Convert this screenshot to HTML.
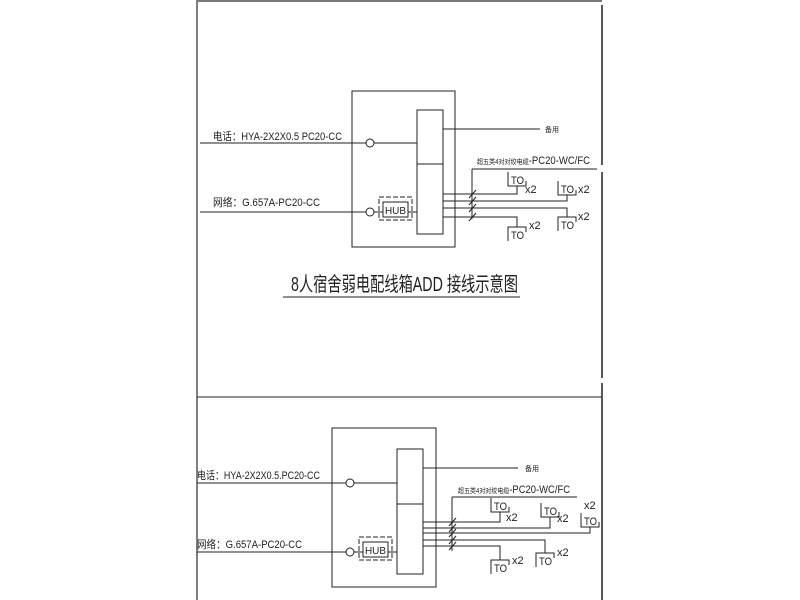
<!DOCTYPE html>
<html><head><meta charset="utf-8"><style>
html,body{margin:0;padding:0;background:#fff;}
svg{display:block}
text{font-family:"Liberation Sans","Noto Sans CJK SC",sans-serif;fill:#222}
</style></head><body>
<svg width="800" height="600" viewBox="0 0 800 600" xmlns="http://www.w3.org/2000/svg">
<g stroke="#222" stroke-width="1" fill="none">
<line x1="197" y1="0" x2="197" y2="600" stroke="#555" stroke-width="1.5"/>
<line x1="197" y1="1" x2="602" y2="1" stroke="#777" stroke-width="2"/>
<line x1="602" y1="5" x2="602" y2="165" stroke-width="1.5"/>
<line x1="602" y1="172" x2="602" y2="378" stroke-width="1.5"/>
<line x1="602" y1="383" x2="602" y2="600" stroke-width="1.5"/>
<line x1="197" y1="397" x2="602" y2="397"/>

<rect x="352" y="91" width="103" height="156"/>
<rect x="417" y="110" width="26" height="124"/>
<line x1="417" y1="164" x2="443" y2="164"/>
<line x1="200" y1="143" x2="366" y2="143"/>
<circle cx="370" cy="143" r="4"/>
<line x1="374" y1="143" x2="417" y2="143"/>
<line x1="200" y1="212" x2="366" y2="212"/>
<circle cx="370" cy="212" r="4"/>
<line x1="374" y1="212" x2="383" y2="212"/>
<rect x="379" y="197" width="33" height="23" stroke-dasharray="5,2"/>
<rect x="383" y="202" width="25" height="15"/>
<line x1="408" y1="212" x2="417" y2="212"/>
<line x1="443" y1="129" x2="540" y2="129"/>
<line x1="472" y1="169" x2="597" y2="169"/>
<line x1="472" y1="169" x2="472" y2="219"/>
<polyline points="443,194 517,194 517,186"/>
<polyline points="443,201 567,201 567,195"/>
<polyline points="443,208 567,208 567,217"/>
<polyline points="443,217 517,217 517,227"/>
<line x1="469" y1="198" x2="476" y2="190"/><line x1="469" y1="205" x2="476" y2="197"/>
<line x1="469" y1="212" x2="476" y2="204"/><line x1="469" y1="221" x2="476" y2="213"/>
<path d="M508 172 V186 H526 V181"/>
<path d="M558 181 V195 H576 V190"/>
<path d="M558 231 V217 H576 V222"/>
<path d="M508 241 V227 H526 V232"/>
<line x1="283" y1="297" x2="520" y2="297"/>

<rect x="332" y="428" width="104" height="159"/>
<rect x="397" y="449" width="26" height="125"/>
<line x1="397" y1="504" x2="423" y2="504"/>
<line x1="197" y1="483" x2="346" y2="483"/>
<circle cx="350" cy="483" r="4"/>
<line x1="354" y1="483" x2="397" y2="483"/>
<line x1="197" y1="552" x2="346" y2="552"/>
<circle cx="350" cy="552" r="4"/>
<line x1="354" y1="552" x2="363" y2="552"/>
<rect x="359" y="537" width="33" height="23" stroke-dasharray="5,2"/>
<rect x="363" y="542" width="25" height="15"/>
<line x1="388" y1="552" x2="397" y2="552"/>
<line x1="423" y1="468" x2="518" y2="468"/>
<line x1="452" y1="497" x2="577" y2="497"/>
<line x1="452" y1="497" x2="452" y2="551"/>
<polyline points="423,522 500,522 500,512"/>
<polyline points="423,528 550,528 550,517"/>
<polyline points="423,533 590,533 590,527"/>
<polyline points="423,540 545,540 545,553"/>
<polyline points="423,546 500,546 500,560"/>
<line x1="449" y1="526" x2="456" y2="518"/><line x1="449" y1="532" x2="456" y2="524"/>
<line x1="449" y1="537" x2="456" y2="529"/><line x1="449" y1="544" x2="456" y2="536"/>
<line x1="449" y1="550" x2="456" y2="542"/>
<path d="M491 498 V512 H509 V507"/>
<path d="M541 503 V517 H559 V512"/>
<path d="M581 513 V527 H599 V522"/>
<path d="M536 567 V553 H554 V558"/>
<path d="M491 574 V560 H509 V565"/>
</g>

<g font-size="11">
<text x="213" y="140" textLength="129" lengthAdjust="spacingAndGlyphs">电话：HYA-2X2X0.5 PC20-CC</text>
<text x="213" y="206" textLength="107" lengthAdjust="spacingAndGlyphs">网络：G.657A-PC20-CC</text>
<text x="385" y="214" font-size="10" textLength="21" lengthAdjust="spacingAndGlyphs">HUB</text>
<text x="545" y="132" font-size="7">备用</text>
<text x="477" y="164" textLength="113" lengthAdjust="spacingAndGlyphs"><tspan font-size="7">超五类4对对绞电缆</tspan>-PC20-WC/FC</text>
<text x="511" y="184" textLength="13" lengthAdjust="spacingAndGlyphs">TO</text><text x="525" y="193">x2</text>
<text x="561" y="193" textLength="13" lengthAdjust="spacingAndGlyphs">TO</text><text x="578" y="193">x2</text>
<text x="561" y="229" textLength="13" lengthAdjust="spacingAndGlyphs">TO</text><text x="578" y="220">x2</text>
<text x="511" y="239" textLength="13" lengthAdjust="spacingAndGlyphs">TO</text><text x="529" y="229">x2</text>
<text x="291" y="291" font-size="20" textLength="227" lengthAdjust="spacingAndGlyphs">8人宿舍弱电配线箱ADD 接线示意图</text>

<text x="197" y="479" textLength="123" lengthAdjust="spacingAndGlyphs">电话：HYA-2X2X0.5.PC20-CC</text>
<text x="197" y="548" textLength="105" lengthAdjust="spacingAndGlyphs">网络：G.657A-PC20-CC</text>
<text x="365" y="554" font-size="10" textLength="21" lengthAdjust="spacingAndGlyphs">HUB</text>
<text x="525" y="471" font-size="7">备用</text>
<text x="458" y="493" textLength="112" lengthAdjust="spacingAndGlyphs"><tspan font-size="7">超五类4对对绞电缆</tspan>-PC20-WC/FC</text>
<text x="494" y="510" textLength="13" lengthAdjust="spacingAndGlyphs">TO</text><text x="506" y="521">x2</text>
<text x="544" y="515" textLength="13" lengthAdjust="spacingAndGlyphs">TO</text><text x="557" y="522">x2</text>
<text x="584" y="525" textLength="13" lengthAdjust="spacingAndGlyphs">TO</text><text x="584" y="509">x2</text>
<text x="539" y="565" textLength="13" lengthAdjust="spacingAndGlyphs">TO</text><text x="557" y="556">x2</text>
<text x="494" y="572" textLength="13" lengthAdjust="spacingAndGlyphs">TO</text><text x="512" y="564">x2</text>
</g>
</svg>
</body></html>
